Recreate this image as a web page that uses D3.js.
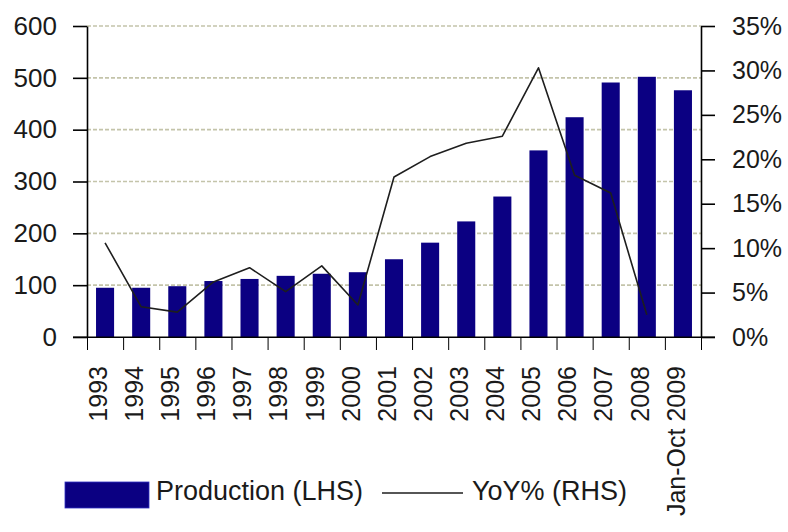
<!DOCTYPE html>
<html>
<head>
<meta charset="utf-8">
<script src="https://cdn.jsdelivr.net/npm/d3@7"></script>
<style>
  html, body { margin: 0; padding: 0; background: #fff; }
  text { font-family: "Liberation Sans", Arial, sans-serif; fill: #1a1a1a; }
</style>
</head>
<body>
<svg id="chart" width="788" height="532"></svg>
<script>
const categories = ["1993","1994","1995","1996","1997","1998","1999","2000","2001","2002","2003","2004","2005","2006","2007","2008","Jan-Oct 2009"];
const production = [95,95,98,108,112,118,122,125,150,182,223,271,360,424,491,502,476];
const yoyCategories = ["1993","1994","1995","1996","1997","1998","1999","2000","2001","2002","2003","2004","2005","2006","2007","2008"];
const yoy = [10.6,3.4,2.8,6.2,7.8,5.1,8.0,3.6,18.0,20.3,21.8,22.6,30.3,18.2,16.2,2.5];
const leftTicks = [0,100,200,300,400,500,600];
const rightTicks = [0,5,10,15,20,25,30,35];

const svg = d3.select("#chart");
const L = 87, R = 701, T = 26, B = 337;

const x = d3.scaleBand().domain(categories).range([L, R]).paddingInner(0.5).paddingOuter(0.25);
const xb = d3.scaleLinear().domain([0, categories.length]).range([L, R]);
const yL = d3.scaleLinear().domain([0, 600]).range([B, T]);
const yR = d3.scaleLinear().domain([0, 35]).range([B, T]);
const cx = c => x(c) + x.bandwidth() / 2;

// gridlines
svg.append("g").selectAll("line").data(leftTicks.filter(d => d > 0)).join("line")
  .attr("x1", L).attr("x2", R)
  .attr("y1", d => yL(d)).attr("y2", d => yL(d))
  .attr("stroke", "#c4c4aa").attr("stroke-width", 1.6).attr("stroke-dasharray", "4,2");

// bars
svg.append("g").selectAll("rect").data(production).join("rect")
  .attr("x", (d, i) => x(categories[i]))
  .attr("width", x.bandwidth())
  .attr("y", d => yL(d))
  .attr("height", d => B - yL(d))
  .attr("fill", "#0b0082");

// line
const line = d3.line().x((d, i) => cx(yoyCategories[i])).y(d => yR(d));
svg.append("path").datum(yoy)
  .attr("d", line).attr("fill", "none")
  .attr("stroke", "#1e1e1e").attr("stroke-width", 1.6).attr("stroke-linejoin", "round");

// left axis
const axL = svg.append("g").attr("transform", `translate(${L},0)`)
  .call(d3.axisLeft(yL).tickValues(leftTicks).tickSize(14).tickSizeOuter(0).tickPadding(16));
axL.selectAll("text").style("font-size", "26px");

// right axis
const axR = svg.append("g").attr("transform", `translate(${R},0)`)
  .call(d3.axisRight(yR).tickValues(rightTicks).tickSize(14).tickSizeOuter(0).tickPadding(17)
    .tickFormat(d => d + "%"));
axR.selectAll("text").style("font-size", "25px");

// bottom axis (boundary ticks)
svg.append("g").attr("transform", `translate(0,${B})`)
  .call(d3.axisBottom(xb).tickValues(d3.range(categories.length + 1)).tickSize(13).tickSizeOuter(0).tickFormat(""));
svg.append("line").attr("x1", 73).attr("x2", 715).attr("y1", B).attr("y2", B)
  .attr("stroke", "#000").attr("stroke-width", 1.2);

[axL, axR].forEach(a => {
  a.selectAll("line").attr("stroke", "#000").attr("stroke-width", 1.6);
  a.select(".domain").attr("stroke", "#000").attr("stroke-width", 1.6);
});

// category labels
svg.append("g").selectAll("text").data(categories).join("text")
  .attr("transform", d => `translate(${cx(d) - 7},366) rotate(-90)`)
  .attr("text-anchor", "end").attr("dy", "0.35em")
  .style("font-size", "25px")
  .text(d => d);

// legend
const lg = svg.append("g");
lg.append("rect").attr("x", 65).attr("y", 482).attr("width", 84).attr("height", 26)
  .attr("fill", "#0b0082").attr("stroke", "#3030c0").attr("stroke-width", 0.8);
lg.append("text").attr("x", 156).attr("y", 500).style("font-size", "27px").text("Production (LHS)");
lg.append("line").attr("x1", 382).attr("x2", 463).attr("y1", 493).attr("y2", 493)
  .attr("stroke", "#1e1e1e").attr("stroke-width", 1.6);
lg.append("text").attr("x", 472).attr("y", 500).style("font-size", "27px").text("YoY% (RHS)");
</script>
</body>
</html>
